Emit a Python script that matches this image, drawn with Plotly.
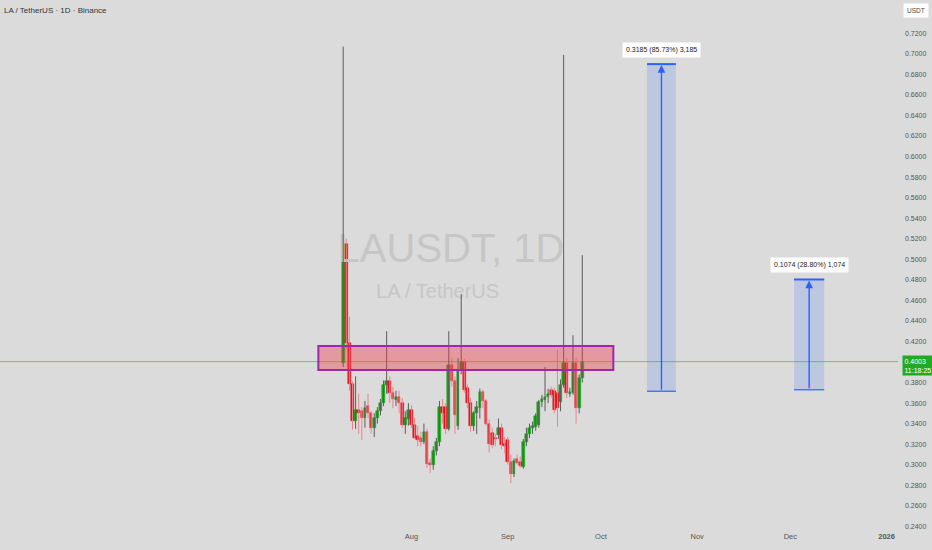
import pandas as pd
import plotly.graph_objects as go

# Daily LA/USDT candles (Jul 10 - Sep 25 2025)
start_date = "2025-07-10"
opens = [0.399, 0.515, 0.418, 0.379, 0.343, 0.353, 0.352, 0.345, 0.357, 0.350,
         0.336, 0.345, 0.352, 0.360, 0.378, 0.381, 0.370, 0.363, 0.366, 0.360,
         0.339, 0.344, 0.353, 0.339, 0.328, 0.326, 0.322, 0.332, 0.301, 0.300,
         0.313, 0.322, 0.356, 0.356, 0.335, 0.397, 0.381, 0.338, 0.392, 0.400,
         0.375, 0.360, 0.338, 0.350, 0.355, 0.371, 0.362, 0.340, 0.331, 0.326,
         0.329, 0.336, 0.320, 0.324, 0.303, 0.291, 0.306, 0.303, 0.298, 0.322,
         0.330, 0.3354, 0.337, 0.339, 0.361, 0.363, 0.366, 0.373, 0.372, 0.370,
         0.361, 0.378, 0.399, 0.369, 0.370, 0.399, 0.355, 0.384]
highs = [0.707, 0.520, 0.444, 0.381, 0.386, 0.369, 0.356, 0.362, 0.369, 0.352,
         0.350, 0.356, 0.364, 0.382, 0.430, 0.386, 0.376, 0.372, 0.372, 0.365,
         0.352, 0.360, 0.358, 0.346, 0.338, 0.332, 0.340, 0.335, 0.306, 0.318,
         0.326, 0.362, 0.364, 0.360, 0.430, 0.404, 0.386, 0.404, 0.466, 0.403,
         0.378, 0.365, 0.352, 0.362, 0.374, 0.373, 0.364, 0.344, 0.336, 0.330,
         0.345, 0.340, 0.327, 0.327, 0.310, 0.306, 0.310, 0.308, 0.325, 0.336,
         0.340, 0.342, 0.350, 0.363, 0.368, 0.395, 0.374, 0.376, 0.375, 0.412,
         0.383, 0.699, 0.404, 0.375, 0.426, 0.404, 0.388, 0.504]
lows = [0.395, 0.412, 0.372, 0.334, 0.335, 0.330, 0.324, 0.336, 0.345, 0.330,
        0.327, 0.340, 0.348, 0.357, 0.369, 0.360, 0.355, 0.357, 0.350, 0.336,
        0.330, 0.338, 0.336, 0.325, 0.318, 0.318, 0.320, 0.297, 0.292, 0.295,
        0.309, 0.318, 0.340, 0.330, 0.333, 0.376, 0.330, 0.334, 0.388, 0.370,
        0.355, 0.332, 0.333, 0.330, 0.345, 0.355, 0.338, 0.312, 0.316, 0.318,
        0.325, 0.315, 0.311, 0.300, 0.282, 0.288, 0.300, 0.297, 0.296, 0.318,
        0.326, 0.330, 0.333, 0.336, 0.356, 0.352, 0.360, 0.365, 0.350, 0.337,
        0.352, 0.375, 0.365, 0.366, 0.368, 0.340, 0.350, 0.380]
closes = [0.515, 0.418, 0.379, 0.343, 0.353, 0.350, 0.345, 0.355, 0.350, 0.336,
          0.345, 0.352, 0.360, 0.378, 0.381, 0.370, 0.364, 0.366, 0.360, 0.339,
          0.345, 0.353, 0.339, 0.326, 0.324, 0.322, 0.332, 0.301, 0.300, 0.313,
          0.322, 0.356, 0.350, 0.335, 0.397, 0.381, 0.348, 0.392, 0.400, 0.373,
          0.360, 0.338, 0.350, 0.356, 0.371, 0.362, 0.340, 0.320, 0.319, 0.325,
          0.336, 0.319, 0.318, 0.303, 0.291, 0.304, 0.302, 0.299, 0.322, 0.330,
          0.336, 0.3376, 0.347, 0.361, 0.364, 0.366, 0.369, 0.368, 0.353, 0.355,
          0.378, 0.399, 0.370, 0.371, 0.399, 0.355, 0.384, 0.4003]

last_price = 0.4003
countdown = "11:18:25"

# supply / resistance zone
zone_start, zone_end = "2025-07-02", "2025-10-05"
zone_low, zone_high = 0.3922, 0.4155

# long-position projections: (start, end, base, target, label)
projections = [
    ("2025-10-15 20:00", "2025-10-25 04:00", 0.3715, 0.6900, "0.3185 (85.73%) 3,185"),
    ("2025-12-02 05:00", "2025-12-11 22:00", 0.3729, 0.4803, "0.1074 (28.80%) 1,074"),
]

# background watermark (symbol / pair), anchored in data space so it sits behind the candles
watermark_text = ["LAUSDT, 1D", "LA / TetherUS"]
watermark_x = ["2025-08-13 17:00", "2025-08-09 10:00"]
watermark_y = [0.507, 0.4671]

price_ticks = [round(0.24 + 0.02 * k, 2) for k in range(25)]
month_ticks = ["2025-08-01", "2025-09-01", "2025-10-01", "2025-11-01", "2025-12-01", "2026-01-01"]
month_labels = ["Aug", "Sep", "Oct", "Nov", "Dec", "<b>2026</b>"]

BG = "#dbdbdb"
UP = "#14a514"
DOWN = "#e2131d"
UP_WICK = "#5c5c5c"
DOWN_WICK = "#e8858c"
FONT = "Liberation Sans, Arial, sans-serif"

dates = pd.date_range(start_date, periods=len(opens), freq="D")
df = pd.DataFrame({"open": opens, "high": highs, "low": lows, "close": closes}, index=dates)
df["up"] = df["close"] >= df["open"]
df["base"] = df[["open", "close"]].min(axis=1)
df["body"] = (df["close"] - df["open"]).abs().clip(lower=0.0012)

fig = go.Figure()

# watermark first so everything else draws over it
for txt, wx, wy, size in zip(watermark_text, watermark_x, watermark_y, [40, 20]):
    fig.add_trace(go.Scatter(x=[wx], y=[wy], mode="text", text=[txt], textposition="middle center",
                             textfont=dict(size=size, color="#c6c6c6", family=FONT),
                             hoverinfo="skip", showlegend=False))

# current price line (under the candles)
fig.add_hline(y=last_price, line=dict(color="#62cc62", width=1), layer="below")

# wicks
for is_up, colour in [(True, UP_WICK), (False, DOWN_WICK)]:
    part = df[df["up"] == is_up]
    xs, ys = [], []
    for d, row in part.iterrows():
        xs += [d, d, None]
        ys += [row["low"], row["high"], None]
    fig.add_trace(go.Scatter(x=xs, y=ys, mode="lines", line=dict(color=colour, width=1),
                             hoverinfo="skip", showlegend=False))

# bodies
for is_up, colour in [(True, UP), (False, DOWN)]:
    part = df[df["up"] == is_up]
    fig.add_trace(go.Bar(x=part.index, y=part["body"], base=part["base"],
                         width=0.85 * 86400000, marker=dict(color=colour, line=dict(color=colour, width=0.5)),
                         showlegend=False))

# zone
fig.add_shape(type="rect", x0=zone_start, x1=zone_end, y0=zone_low, y1=zone_high,
              fillcolor="rgba(242,54,69,0.4)", line=dict(color="#9c27b0", width=2), layer="above")

# projection boxes
for x0, x1, base, target, label in projections:
    mid = pd.Timestamp(x0) + (pd.Timestamp(x1) - pd.Timestamp(x0)) / 2
    fig.add_shape(type="rect", x0=x0, x1=x1, y0=base, y1=target,
                  fillcolor="rgba(41,98,255,0.16)", line=dict(width=0))
    fig.add_shape(type="line", x0=x0, x1=x1, y0=target, y1=target, line=dict(color="#2962ff", width=2))
    fig.add_shape(type="line", x0=x0, x1=x1, y0=base, y1=base, line=dict(color="#2962ff", width=1.2))
    fig.add_annotation(x=mid, y=target, ax=mid, ay=base, xref="x", yref="y", axref="x", ayref="y",
                       text="", showarrow=True, arrowhead=2, arrowsize=1.1, arrowwidth=1.4,
                       arrowcolor="#2962ff", standoff=1)
    fig.add_annotation(x=mid, y=target, xref="x", yref="y", text=label, showarrow=False,
                       yanchor="bottom", yshift=6, bgcolor="white", borderpad=3,
                       font=dict(size=7, color="#222"))

# header / axis badges
fig.add_annotation(x=0, y=1, xref="paper", yref="paper", xanchor="left", yanchor="top", xshift=2, yshift=-4,
                   text="LA / TetherUS · 1D · Binance", showarrow=False, font=dict(size=8, color="#333"))
fig.add_annotation(x=1, y=1, xref="paper", yref="paper", xanchor="left", yanchor="top", xshift=5, yshift=-3,
                   text="USDT", showarrow=False, bgcolor="white", borderpad=3, font=dict(size=6.5, color="#444"))
fig.add_annotation(x=1, y=last_price, xref="paper", yref="y", xanchor="left", yanchor="top", xshift=4, yshift=7,
                   text=f"{last_price:.4f}<br>{countdown}", showarrow=False, bgcolor="#22ab22", borderpad=1.5,
                   align="left", font=dict(size=7, color="white"))

fig.update_layout(
    width=932, height=550,
    margin=dict(l=0, r=34, t=0, b=20),
    paper_bgcolor=BG, plot_bgcolor=BG,
    barmode="overlay", bargap=0,
    showlegend=False,
    font=dict(family=FONT, size=7, color="#555"),
    xaxis=dict(type="date", range=["2025-03-21 11:17", "2026-01-04 16:19"],
               tickvals=month_ticks, ticktext=month_labels, showgrid=False, zeroline=False,
               showline=False, ticks="", tickfont=dict(size=7.5, color="#555"), fixedrange=True),
    yaxis=dict(side="right", range=[0.2364, 0.7524], tickvals=price_ticks,
               ticktext=[f"{v:.4f}" for v in price_ticks], showgrid=False, zeroline=False,
               showline=False, ticks="", ticklabelstandoff=6, tickfont=dict(size=7, color="#555")),
)

fig.write_html("out.html", config={"displayModeBar": False},
               post_script="document.body.style.margin='0';document.body.style.padding='0';")
